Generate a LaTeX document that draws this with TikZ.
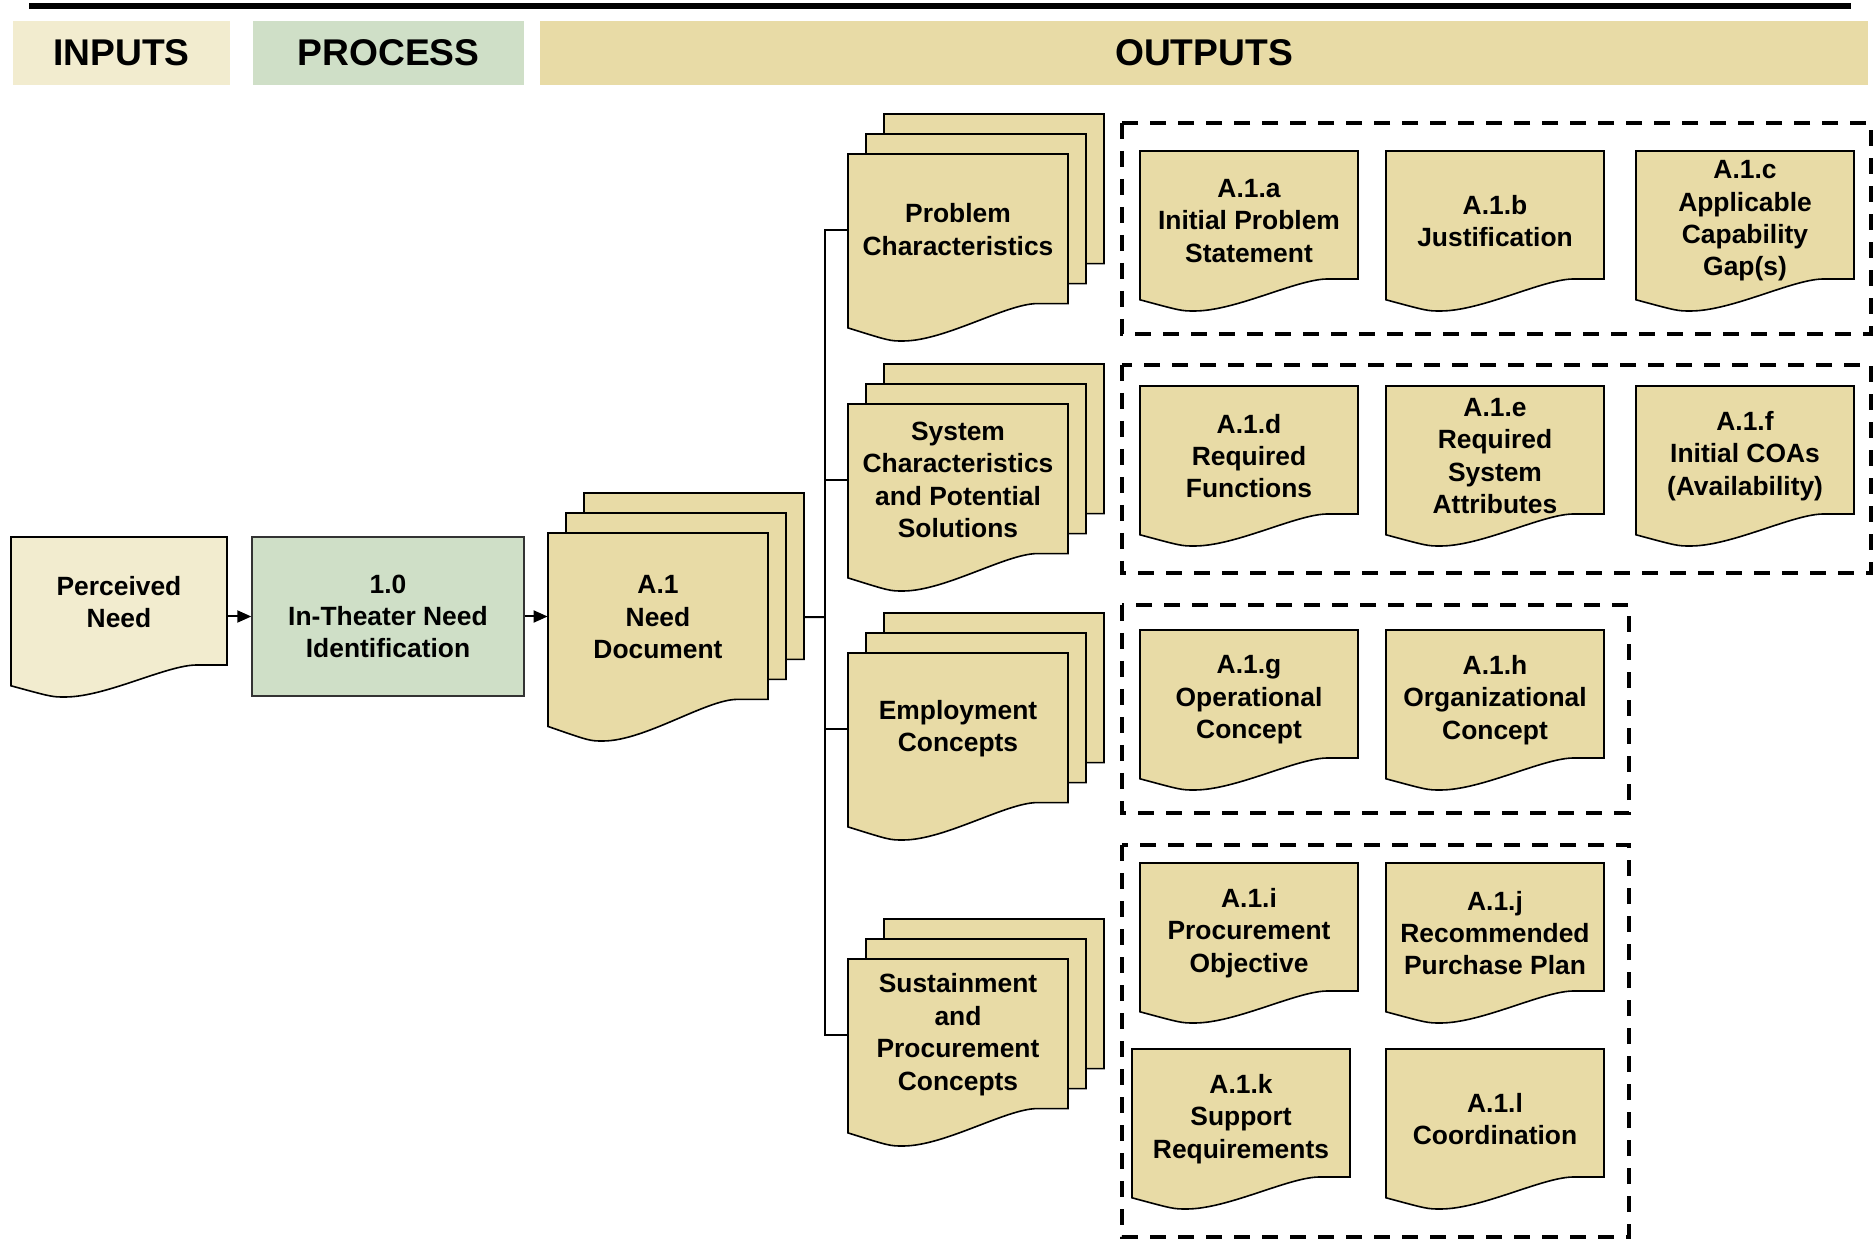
\documentclass[tikz,border=0pt]{standalone}
\usepackage{fontspec}
\setmainfont{Liberation Sans}
\usetikzlibrary{arrows.meta}

\definecolor{inputfill}{HTML}{F2ECCF}
\definecolor{processfill}{HTML}{CFDFC7}
\definecolor{docfill}{HTML}{E8DBA6}

\tikzset{
  docline/.style={draw=black, line width=0.8pt},
  doctext/.style={inner sep=0pt, align=center, font=\fontsize{13.2}{16.2}\selectfont\bfseries},
  outtext/.style={yshift=-2.6pt},
  procbox/.style={draw=black!80, line width=0.7pt, fill=processfill, inner sep=0pt,
    minimum width=136pt, minimum height=79.5pt, align=center,
    font=\fontsize{13.2}{16.2}\selectfont\bfseries},
  hdr/.style={inner sep=0pt, minimum height=32pt, font=\fontsize{18.6}{22}\selectfont\bfseries},
  grpbox/.style={line width=2pt, dash pattern=on 8pt off 6pt},
  arr/.style={line width=1pt, -{Triangle[length=7pt,width=6pt]}},
  link/.style={line width=1pt}
}

% one page with a wavy bottom: [text options] name, left, top, width, depth, fill, text
\newcommand{\docpage}[8][]{%
  \begin{scope}[shift={(#3,#4)}, xscale=#5, yscale=#6]
    \filldraw[docline, fill=#7] (0,0) -- (1,0) -- (1,0.80) -- (0.86,0.80)
      .. controls (0.72,0.80) and (0.44,1) .. (0.25,1)
      .. controls (0.19,1) .. (0,0.93) -- cycle;
  \end{scope}
  \node[doctext, minimum width=#5*0.5pt, minimum height=#6*0.4pt, #1]
    (#2) at ({#3+#5/2},{#4+#6*0.405}) {#8};
}

% three pages stacked: name, left, top, width, depth, text
\newcommand{\docstack}[6]{%
  \pgfmathsetmacro{\sxa}{#2+36}\pgfmathsetmacro{\sya}{#3-40}
  \pgfmathsetmacro{\sxb}{#2+18}\pgfmathsetmacro{\syb}{#3-20}
  \docpage{#1-3}{\sxa}{\sya}{#4}{#5}{docfill}{}
  \docpage{#1-2}{\sxb}{\syb}{#4}{#5}{docfill}{}
  \docpage{#1}{#2}{#3}{#4}{#5}{docfill}{#6}
}

\begin{document}
\begin{tikzpicture}[x=0.5pt, y=-0.5pt]
  \useasboundingbox (0,0) rectangle (1875,1240);

  % Rule and column headers
  \draw[line width=3pt] (29,6) -- (1851,6);
  \node[hdr, fill=inputfill, minimum width=108.5pt] (inputs) at (121.5,53) {INPUTS};
  \node[hdr, fill=processfill, minimum width=135.5pt] (process) at (388.5,53) {PROCESS};
  \node[hdr, fill=docfill, minimum width=664pt] (outputs) at (1204,53) {OUTPUTS};

  % Input, process and need document
  \docpage{need}{11}{537}{216}{160}{inputfill}{Perceived\\Need}
  \node[procbox] (proc) at (388,616.5) {1.0\\In-Theater Need\\Identification};
  \docstack{a1}{548}{533}{220}{208}{A.1\\Need\\Document}

  \draw[arr] (need.east |- proc.west) -- (proc.west);
  \draw[arr] (proc.east) -- (proc.east -| a1.west);

  % Document stacks
  \docstack{prob}{848}{154}{220}{187}{Problem\\Characteristics}
  \docstack{sys}{848}{404}{220}{187}{System\\Characteristics\\and Potential\\Solutions}
  \docstack{emp}{848}{653}{220}{187}{Employment\\Concepts}
  \docstack{sust}{848}{959}{220}{187}{Sustainment\\and\\Procurement\\Concepts}

  % Trunk to the stacks
  \coordinate (trunk) at (825,617);
  \draw[link] (a1-3.east |- a1) -- (trunk);
  \draw[link] (prob.west) -| (trunk) |- (sust.west);
  \draw[link] (sys.west) -- (sys.west -| trunk);
  \draw[link] (emp.west) -- (emp.west -| trunk);

  % Group frames
  \draw[grpbox] (1122,123) rectangle (1871,334);
  \draw[grpbox] (1122,365) rectangle (1871,573);
  \draw[grpbox] (1122,605) rectangle (1629,813);
  \draw[grpbox] (1122,845) rectangle (1629,1237);

  % Output documents
  \docpage[outtext]{a1a}{1140}{151}{218}{160}{docfill}{A.1.a\\Initial Problem\\Statement}
  \docpage[outtext]{a1b}{1386}{151}{218}{160}{docfill}{A.1.b\\Justification}
  \docpage[outtext]{a1c}{1636}{151}{218}{160}{docfill}{A.1.c\\Applicable\\Capability\\Gap(s)}
  \docpage[outtext]{a1d}{1140}{386}{218}{160}{docfill}{A.1.d\\Required\\Functions}
  \docpage[outtext]{a1e}{1386}{386}{218}{160}{docfill}{A.1.e\\Required\\System\\Attributes}
  \docpage[outtext]{a1f}{1636}{386}{218}{160}{docfill}{A.1.f\\Initial COAs\\(Availability)}
  \docpage[outtext]{a1g}{1140}{630}{218}{160}{docfill}{A.1.g\\Operational\\Concept}
  \docpage[outtext]{a1h}{1386}{630}{218}{160}{docfill}{A.1.h\\Organizational\\Concept}
  \docpage[outtext]{a1i}{1140}{863}{218}{160}{docfill}{A.1.i\\Procurement\\Objective}
  \docpage[outtext]{a1j}{1386}{863}{218}{160}{docfill}{A.1.j\\Recommended\\Purchase Plan}
  \docpage[outtext]{a1k}{1132}{1049}{218}{160}{docfill}{A.1.k\\Support\\Requirements}
  \docpage[outtext]{a1l}{1386}{1049}{218}{160}{docfill}{A.1.l\\Coordination}
\end{tikzpicture}
\end{document}
